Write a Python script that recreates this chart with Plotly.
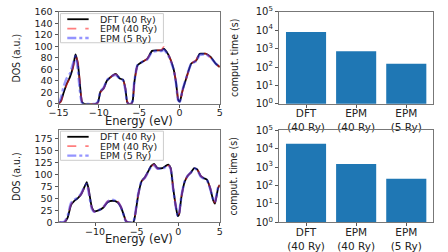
import plotly.graph_objects as go

# ---------------- data ----------------
E_top = [-15.0, -14.7, -14.4, -14.0, -13.6, -13.2, -12.9, -12.6, -12.4, -12.1, -11.8, -10.4, -10.1, -9.8,
         -9.4, -9.0, -8.4, -7.9, -7.4, -7.0, -6.7, -6.5, -6.3, -6.0, -5.8, -5.6, -5.2, -4.6, -4.0, -3.4,
         -2.8, -2.2, -1.95, -1.4, -0.75, -0.42, -0.15, 0.05, 0.38, 0.86, 1.47, 2.07, 2.5, 2.9, 3.3, 3.9,
         4.5, 5.0]
dft_top = [0, 5, 18, 34, 46, 64, 86, 70, 43, 4, 0, 0, 3, 21, 27, 40, 48, 52, 44, 42, 26, 4, 0, 0, 5, 37,
           67, 73, 78, 92, 93, 93, 96, 86, 62, 37, 7, 4, 23, 45, 70, 75, 87, 87, 87, 81, 70, 64]
epm40_top = [0, 4, 17, 33, 45, 63, 84, 72, 45, 5, 0, 0, 2, 20, 27, 39, 48, 51, 45, 42, 27, 5, 0, 0, 4, 35,
             66, 73, 78, 91, 93, 94, 99, 87, 63, 38, 8, 3, 22, 44, 70, 76, 89, 88, 87, 80, 70, 64]
epm5_top = [2, 10, 28, 44, 52, 70, 83, 60, 30, 2, 0, 0, 4, 22, 28, 41, 48, 50, 44, 41, 24, 3, 0, 0, 6, 38,
            67, 73, 77, 90, 92, 92, 94, 85, 61, 36, 6, 4, 24, 46, 70, 74, 85, 86, 86, 80, 70, 64]

E_bot = [-14.3, -13.7, -13.3, -12.9, -12.5, -12.1, -11.7, -11.35, -11.0, -10.8, -10.4, -10.1, -9.6, -9.0,
         -8.5, -7.9, -7.3, -6.9, -6.5, -6.3, -6.0, -5.4, -5.2, -4.8, -4.4, -4.0, -3.65, -3.27, -2.9, -2.5,
         -1.9, -1.55, -1.15, -0.9, -0.6, -0.27, -0.05, 0.1, 0.38, 0.77, 1.15, 1.54, 1.92, 2.3, 2.7, 3.1,
         3.46, 3.85, 4.23, 4.42, 4.8, 5.0]
dft_bot = [0, 0, 10, 36, 45, 50, 58, 71, 84, 71, 32, 23, 25, 31, 42, 45, 42, 32, 13, 3, 0, 0, 13, 58, 86,
           94, 105, 117, 122, 113, 113, 117, 120, 113, 71, 32, 13, 16, 52, 84, 97, 104, 113, 110, 97, 92,
           89, 71, 45, 39, 71, 78]
epm40_bot = [0, 0, 12, 38, 46, 51, 58, 70, 80, 68, 30, 22, 25, 32, 44, 48, 44, 33, 14, 3, 0, 0, 14, 58, 85,
             93, 104, 116, 120, 112, 112, 115, 118, 112, 70, 32, 14, 17, 53, 84, 97, 104, 112, 110, 97, 92,
             89, 72, 47, 41, 72, 78]
epm5_bot = [0, 1, 14, 40, 47, 51, 59, 72, 80, 66, 29, 22, 25, 32, 43, 47, 43, 32, 12, 2, 0, 1, 15, 60, 86,
            93, 104, 116, 119, 112, 112, 115, 118, 111, 69, 31, 14, 18, 54, 85, 97, 104, 112, 109, 96, 91,
            88, 70, 47, 42, 72, 78]

methods = ["DFT<br>(40 Ry)", "EPM<br>(40 Ry)", "EPM<br>(5 Ry)"]
time_top = [8000, 720, 150]
time_bot = [18500, 1450, 230]

series_names = ["DFT (40 Ry)", "EPM (40 Ry)", "EPM (5 Ry)"]

# ---------------- figure ----------------
W, H = 448, 252
FONT = "DejaVu Sans"
fig = go.Figure()

styles = [
    dict(color="black", width=1.8, dash="solid"),
    dict(color="rgba(255,40,40,0.55)", width=1.8, dash="dash"),
    dict(color="rgba(60,60,255,0.5)", width=2.6, dash="dashdot"),
]

def add_dos(E, ys, xa, ya):
    for name, y, st in zip(series_names, ys, styles):
        fig.add_trace(go.Scatter(x=E, y=y, mode="lines", name=name,
                                 line=dict(shape="spline", smoothing=0.5, **st),
                                 xaxis=xa, yaxis=ya, showlegend=False))

add_dos(E_top, [dft_top, epm40_top, epm5_top], "x", "y")
add_dos(E_bot, [dft_bot, epm40_bot, epm5_bot], "x3", "y3")

fig.add_trace(go.Bar(x=methods, y=time_top, marker=dict(color="#1f77b4", line=dict(width=0)), width=0.8,
                     xaxis="x2", yaxis="y2", showlegend=False))
fig.add_trace(go.Bar(x=methods, y=time_bot, marker=dict(color="#1f77b4", line=dict(width=0)), width=0.8,
                     xaxis="x4", yaxis="y4", showlegend=False))

def px(x):
    return x / W

def py(y):
    return 1 - y / H

dom_xl = [px(50), px(216)]
dom_xr = [px(277), px(436)]
dom_yt = [py(103), py(5)]
dom_yb = [py(229), py(131)]

axcommon = dict(showline=True, mirror=True, linecolor="#777", linewidth=1, ticks="outside", ticklen=3,
                tickcolor="#555", showgrid=False, zeroline=False)
tickf = dict(family=FONT, size=9.5, color="#222")
catf = dict(family=FONT, size=10.5, color="#222")

log_vals = [1, 10, 100, 1000, 10000, 100000]
log_text = ["10<sup>0</sup>", "10<sup>1</sup>", "10<sup>2</sup>", "10<sup>3</sup>", "10<sup>4</sup>", "10<sup>5</sup>"]

fig.update_layout(
    width=W, height=H, margin=dict(l=0, r=0, t=0, b=0),
    paper_bgcolor="white", plot_bgcolor="white",
    font=dict(family=FONT, size=10, color="#222"),
    showlegend=False,
    xaxis=dict(domain=dom_xl, anchor="y", range=[-15, 5], tickvals=[-15, -10, -5, 0, 5], tickfont=tickf,
               ticklabelstandoff=-3, **axcommon),
    yaxis=dict(domain=dom_yt, anchor="x", range=[0, 160], tickvals=list(range(0, 161, 20)), tickfont=tickf,
               **axcommon),
    xaxis2=dict(domain=dom_xr, anchor="y2", range=[-0.54, 2.54], tickfont=catf, ticklabelstandoff=-3,
                **axcommon),
    yaxis2=dict(domain=dom_yt, anchor="x2", type="log", range=[0, 5], tickvals=log_vals, ticktext=log_text,
                tickfont=dict(family=FONT, size=10, color="#222"), **axcommon),
    xaxis3=dict(domain=dom_xl, anchor="y3", range=[-14.4, 5], tickvals=[-10, -5, 0, 5], tickfont=tickf,
                ticklabelstandoff=-3, **axcommon),
    yaxis3=dict(domain=dom_yb, anchor="x3", range=[0, 192], tickvals=list(range(0, 176, 25)), tickfont=tickf,
                **axcommon),
    xaxis4=dict(domain=dom_xr, anchor="y4", range=[-0.54, 2.54], tickfont=catf, ticklabelstandoff=-3,
                **axcommon),
    yaxis4=dict(domain=dom_yb, anchor="x4", type="log", range=[0, 5], tickvals=log_vals, ticktext=log_text,
                tickfont=dict(family=FONT, size=10, color="#222"), **axcommon),
)

# axis titles as annotations
ann = []
ytf = dict(family="Liberation Sans Narrow, DejaVu Sans Condensed, Liberation Sans", size=10.5, color="#222")
for yc in (121, 246.5):
    ann.append(dict(text="Energy (eV)", x=px(133), y=py(yc), xref="paper", yref="paper", showarrow=False,
                    xanchor="center", yanchor="middle", font=dict(family=FONT, size=11.5, color="#222")))
for yc in (54, 180):
    ann.append(dict(text="DOS (a.u.)", x=px(6), y=py(yc), xref="paper", yref="paper", showarrow=False,
                    textangle=-90, xanchor="center", yanchor="middle", font=ytf))
    ann.append(dict(text="comput. time (s)", x=px(230), y=py(yc), xref="paper", yref="paper", showarrow=False,
                    textangle=-90, xanchor="center", yanchor="middle", font=ytf))

# legends (box + line samples + labels)
shapes = []
legend_line_styles = [
    dict(color="black", width=1.8, dash="solid"),
    dict(color="rgba(255,40,40,0.6)", width=1.8, dash="dash"),
    dict(color="rgba(60,60,255,0.55)", width=2.4, dash="dashdot"),
]
for top in (7, 132):
    shapes.append(dict(type="rect", xref="paper", yref="paper", x0=px(52), x1=px(158), y0=py(top + 31),
                       y1=py(top), fillcolor="rgba(255,255,255,0.85)", line=dict(color="#ccc", width=1),
                       layer="above"))
    for i, (name, st) in enumerate(zip(series_names, legend_line_styles)):
        yy = top + 6 + 10 * i
        shapes.append(dict(type="line", xref="paper", yref="paper", x0=px(59), x1=px(81), y0=py(yy), y1=py(yy),
                           line=st, layer="above"))
        ann.append(dict(text=name, x=px(91), y=py(yy), xref="paper", yref="paper", showarrow=False,
                        xanchor="left", yanchor="middle", font=dict(family=FONT, size=9.5, color="#222")))

fig.update_layout(annotations=ann, shapes=shapes)

fig.write_html("out.html", config={"displayModeBar": False},
               post_script="document.body.style.margin='0';document.body.style.overflow='hidden';")
